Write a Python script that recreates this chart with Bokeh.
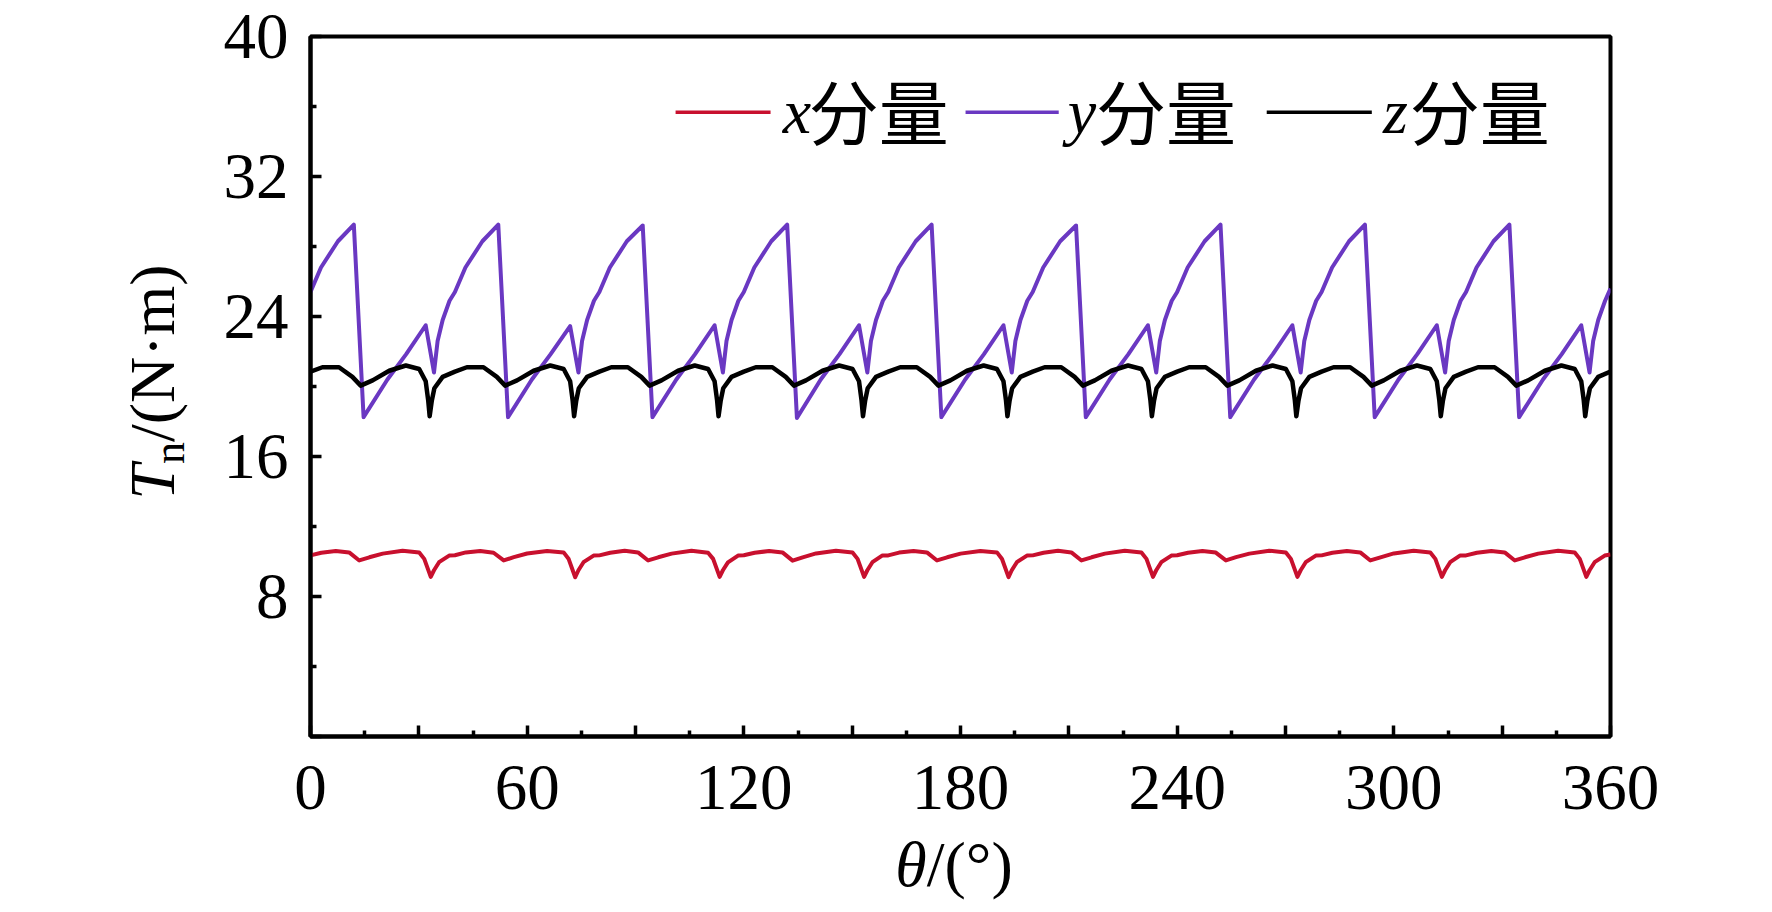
from bokeh.plotting import figure
from bokeh.layouts import row, column
from bokeh.models import Range1d, FixedTicker, Label, Div
from bokeh.embed import file_html
from bokeh.resources import INLINE

SERIF = "Liberation Serif"
CJK = "Noto Sans CJK SC"

RED = "#C8102E"
PURPLE = "#6A38C2"
BLACK = "#000000"

# x component (red)
x_theta = [
    0, 3.0, 7.0, 10.7, 13.5, 16.3, 20.0, 25.5, 30.1, 31.5, 33.3, 34.2, 35.6, 38.4,
    40, 43.0, 47.0, 50.7, 53.5, 56.3, 60.0, 65.5, 70.1, 71.5, 73.3, 74.2, 75.6, 78.4,
    80, 83.0, 87.0, 90.7, 93.5, 96.3, 100.0, 105.5, 110.1, 111.5, 113.3, 114.2, 115.6, 118.4,
    120, 123.0, 127.0, 130.7, 133.5, 136.3, 140.0, 145.5, 150.1, 151.5, 153.3, 154.2, 155.6, 158.4,
    160, 163.0, 167.0, 170.7, 173.5, 176.3, 180.0, 185.5, 190.1, 191.5, 193.3, 194.2, 195.6, 198.4,
    200, 203.0, 207.0, 210.7, 213.5, 216.3, 220.0, 225.5, 230.1, 231.5, 233.3, 234.2, 235.6, 238.4,
    240, 243.0, 247.0, 250.7, 253.5, 256.3, 260.0, 265.5, 270.1, 271.5, 273.3, 274.2, 275.6, 278.4,
    280, 283.0, 287.0, 290.7, 293.5, 296.3, 300.0, 305.5, 310.1, 311.5, 313.3, 314.2, 315.6, 318.4,
    320, 323.0, 327.0, 330.7, 333.5, 336.3, 340.0, 345.5, 350.1, 351.5, 353.3, 354.2, 355.6, 358.4,
    360,
]
x_vals = [
    10.35, 10.50, 10.60, 10.52, 10.06, 10.24, 10.45, 10.62, 10.52, 10.15, 9.12, 9.50, 9.96, 10.34,
    10.36, 10.52, 10.60, 10.50, 10.06, 10.25, 10.46, 10.60, 10.52, 10.14, 9.10, 9.50, 9.96, 10.34,
    10.35, 10.50, 10.62, 10.52, 10.06, 10.24, 10.45, 10.62, 10.50, 10.15, 9.12, 9.50, 9.95, 10.34,
    10.36, 10.50, 10.60, 10.52, 10.05, 10.24, 10.46, 10.62, 10.52, 10.15, 9.12, 9.50, 9.96, 10.35,
    10.35, 10.51, 10.60, 10.52, 10.06, 10.24, 10.45, 10.60, 10.52, 10.14, 9.11, 9.50, 9.96, 10.34,
    10.35, 10.50, 10.61, 10.52, 10.06, 10.24, 10.45, 10.62, 10.52, 10.15, 9.12, 9.50, 9.96, 10.34,
    10.36, 10.50, 10.60, 10.51, 10.06, 10.25, 10.45, 10.62, 10.52, 10.15, 9.12, 9.50, 9.96, 10.34,
    10.35, 10.50, 10.60, 10.52, 10.06, 10.24, 10.46, 10.61, 10.52, 10.15, 9.12, 9.50, 9.96, 10.35,
    10.35, 10.50, 10.60, 10.52, 10.06, 10.24, 10.45, 10.62, 10.52, 10.15, 9.12, 9.50, 9.96, 10.34,
    10.40,
]

# y component (purple)
y_theta = [
    0, 2.9, 7.6, 12.0, 14.7, 21.3, 26.5, 31.9, 34.2, 35.2, 36.6, 38.5,
    40, 42.9, 47.6, 52.0, 54.7, 61.3, 66.5, 71.9, 74.2, 75.2, 76.6, 78.5,
    80, 82.9, 87.6, 92.0, 94.7, 101.3, 106.5, 111.9, 114.2, 115.2, 116.6, 118.5,
    120, 122.9, 127.6, 132.0, 134.7, 141.3, 146.5, 151.9, 154.2, 155.2, 156.6, 158.5,
    160, 162.9, 167.6, 172.0, 174.7, 181.3, 186.5, 191.9, 194.2, 195.2, 196.6, 198.5,
    200, 202.9, 207.6, 212.0, 214.7, 221.3, 226.5, 231.9, 234.2, 235.2, 236.6, 238.5,
    240, 242.9, 247.6, 252.0, 254.7, 261.3, 266.5, 271.9, 274.2, 275.2, 276.6, 278.5,
    280, 282.9, 287.6, 292.0, 294.7, 301.3, 306.5, 311.9, 314.2, 315.2, 316.6, 318.5,
    320, 322.9, 327.6, 332.0, 334.7, 341.3, 346.5, 351.9, 354.2, 355.2, 356.6, 358.5,
    360,
]
y_vals = [
    25.4, 26.8, 28.3, 29.25, 18.25, 20.4, 21.85, 23.5, 20.8, 22.6, 23.8, 24.9,
    25.4, 26.8, 28.3, 29.25, 18.25, 20.4, 21.85, 23.45, 20.8, 22.6, 23.8, 24.9,
    25.4, 26.8, 28.3, 29.2, 18.25, 20.4, 21.85, 23.5, 20.8, 22.6, 23.8, 24.9,
    25.4, 26.8, 28.3, 29.25, 18.2, 20.4, 21.85, 23.5, 20.8, 22.6, 23.8, 24.9,
    25.4, 26.8, 28.3, 29.25, 18.25, 20.4, 21.85, 23.5, 20.8, 22.6, 23.8, 24.9,
    25.4, 26.8, 28.3, 29.2, 18.25, 20.4, 21.85, 23.5, 20.8, 22.6, 23.8, 24.9,
    25.4, 26.8, 28.3, 29.25, 18.25, 20.4, 21.85, 23.5, 20.8, 22.6, 23.8, 24.9,
    25.4, 26.8, 28.3, 29.25, 18.25, 20.4, 21.85, 23.5, 20.8, 22.6, 23.8, 24.9,
    25.4, 26.8, 28.3, 29.25, 18.25, 20.4, 21.85, 23.5, 20.8, 22.6, 23.8, 24.9,
    25.6,
]

# z component (black)
z_theta = [
    0, 3.3, 7.9, 11.6, 13.9, 17.2, 21.8, 26.4, 30.1, 31.9, 32.6, 33.0, 33.6, 34.3, 36.6,
    40, 43.3, 47.9, 51.6, 53.9, 57.2, 61.8, 66.4, 70.1, 71.9, 72.6, 73.0, 73.6, 74.3, 76.6,
    80, 83.3, 87.9, 91.6, 93.9, 97.2, 101.8, 106.4, 110.1, 111.9, 112.6, 113.0, 113.6, 114.3, 116.6,
    120, 123.3, 127.9, 131.6, 133.9, 137.2, 141.8, 146.4, 150.1, 151.9, 152.6, 153.0, 153.6, 154.3, 156.6,
    160, 163.3, 167.9, 171.6, 173.9, 177.2, 181.8, 186.4, 190.1, 191.9, 192.6, 193.0, 193.6, 194.3, 196.6,
    200, 203.3, 207.9, 211.6, 213.9, 217.2, 221.8, 226.4, 230.1, 231.9, 232.6, 233.0, 233.6, 234.3, 236.6,
    240, 243.3, 247.9, 251.6, 253.9, 257.2, 261.8, 266.4, 270.1, 271.9, 272.6, 273.0, 273.6, 274.3, 276.6,
    280, 283.3, 287.9, 291.6, 293.9, 297.2, 301.8, 306.4, 310.1, 311.9, 312.6, 313.0, 313.6, 314.3, 316.6,
    320, 323.3, 327.9, 331.6, 333.9, 337.2, 341.8, 346.4, 350.1, 351.9, 352.6, 353.0, 353.6, 354.3, 356.6,
    360,
]
z_vals = [
    20.85, 21.1, 21.1, 20.55, 20.05, 20.35, 20.9, 21.2, 21.0, 20.3, 19.2, 18.3, 19.2, 19.9, 20.55,
    20.85, 21.1, 21.1, 20.55, 20.05, 20.35, 20.9, 21.2, 21.0, 20.3, 19.2, 18.3, 19.2, 19.9, 20.55,
    20.85, 21.1, 21.1, 20.55, 20.05, 20.35, 20.9, 21.2, 21.0, 20.3, 19.2, 18.3, 19.2, 19.9, 20.55,
    20.85, 21.1, 21.1, 20.55, 20.05, 20.35, 20.9, 21.2, 21.0, 20.3, 19.2, 18.3, 19.2, 19.9, 20.55,
    20.85, 21.1, 21.1, 20.55, 20.05, 20.35, 20.9, 21.2, 21.0, 20.3, 19.2, 18.3, 19.2, 19.9, 20.55,
    20.85, 21.1, 21.1, 20.55, 20.05, 20.35, 20.9, 21.2, 21.0, 20.3, 19.2, 18.3, 19.2, 19.9, 20.55,
    20.85, 21.1, 21.1, 20.55, 20.05, 20.35, 20.9, 21.2, 21.0, 20.3, 19.2, 18.3, 19.2, 19.9, 20.55,
    20.85, 21.1, 21.1, 20.55, 20.05, 20.35, 20.9, 21.2, 21.0, 20.3, 19.2, 18.3, 19.2, 19.9, 20.55,
    20.85, 21.1, 21.1, 20.55, 20.05, 20.35, 20.9, 21.2, 21.0, 20.3, 19.2, 18.3, 19.2, 19.9, 20.55,
    20.85,
]

x_ticks = [0, 30, 60, 90, 120, 150, 180, 210, 240, 270, 300, 330, 360]
x_minor = [15, 45, 75, 105, 135, 165, 195, 225, 255, 285, 315, 345]
y_ticks = [0, 8, 16, 24, 32, 40]
y_minor = [4, 12, 20, 28, 36]

legend_letters = ["x", "y", "z"]
legend_text = "分量"

x_title_html = "<i>θ</i>/(°)"
y_title_html = "<i>T</i><sub style='font-size:44px;vertical-align:-10px'>n</sub>/(N·m)"

FIG_W = 1556
FIG_H = 846


def style_axes(p):
    for ax in (p.xaxis[0], p.yaxis[0]):
        ax.axis_line_width = 4
        ax.major_tick_line_width = 3.5
        ax.minor_tick_line_width = 3.5
        ax.major_tick_in = 11
        ax.major_tick_out = 0
        ax.minor_tick_in = 6
        ax.minor_tick_out = 0
        ax.major_label_text_font = SERIF
        ax.major_label_text_font_size = "65px"
        ax.major_label_text_color = "black"

    p.xaxis.ticker = FixedTicker(ticks=x_ticks, minor_ticks=x_minor)
    p.xaxis.major_label_overrides = {t: ("" if t % 60 else str(t)) for t in x_ticks}
    p.xaxis.major_label_standoff = 29

    p.yaxis.ticker = FixedTicker(ticks=y_ticks, minor_ticks=y_minor)
    p.yaxis.major_label_overrides = {0: ""}
    p.yaxis.major_label_standoff = 22


def add_legend(p):
    # hand-made legend so the component letter can be italic
    key_x0 = [101.1, 181.4, 264.8]
    key_x1 = [127.4, 207.2, 293.9]
    letter_x = [130.8, 209.7, 297.0]
    cjk_x = [138.0, 217.5, 304.4]
    colors = [RED, PURPLE, BLACK]
    key_y = 35.67
    letter_y = 35.7
    cjk_y = 35.85
    p.segment(x0=key_x0, y0=[key_y] * 3, x1=key_x1, y1=[key_y] * 3, color=colors, line_width=3.5)
    for i in range(3):
        p.add_layout(Label(x=letter_x[i], y=letter_y, text=legend_letters[i], text_font=SERIF,
                           text_font_style="italic", text_font_size="64px", text_color="black",
                           text_align="left", text_baseline="alphabetic"))
        p.add_layout(Label(x=cjk_x[i], y=cjk_y, text=legend_text, text_font=CJK,
                           text_font_size="70px", text_color="black",
                           text_align="left", text_baseline="alphabetic"))


def axis_titles():
    # labels outside the frame get clipped, so the titles live in Divs around the figure
    font = "font-family:'Liberation Serif';font-size:64px;line-height:64px;color:black;white-space:nowrap;"
    ytitle = Div(width=200, height=FIG_H,
                 text=("<div style=\"" + font + "width:938px;height:200px;padding-top:116px;"
                       "box-sizing:border-box;text-align:center;transform-origin:0 0;"
                       "transform:translate(0px,%dpx) rotate(-90deg);\">" % FIG_H) + y_title_html + "</div>")
    xtitle = Div(width=1756, height=896 - FIG_H,
                 text=("<div style=\"" + font + "width:1756px;padding-left:142px;box-sizing:border-box;"
                       "text-align:center;position:relative;top:-28px;\">" + x_title_html + "</div>"))
    return ytitle, xtitle


def main():
    p = figure(width=FIG_W, height=FIG_H, x_range=Range1d(0, 360), y_range=Range1d(0, 40),
               output_backend="svg", toolbar_location=None,
               min_border_left=100, min_border_right=156, min_border_top=36, min_border_bottom=110)
    p.grid.visible = False
    p.background_fill_color = "white"
    p.border_fill_color = "white"
    p.outline_line_color = "black"
    p.outline_line_width = 4
    p.outline_line_alpha = 1

    p.line(x_theta, x_vals, color=RED, line_width=4, line_join="round")
    p.line(y_theta, y_vals, color=PURPLE, line_width=4, line_join="round")
    p.line(z_theta, z_vals, color=BLACK, line_width=4.5, line_join="round")

    style_axes(p)
    add_legend(p)

    ytitle, xtitle = axis_titles()
    page = column(row(ytitle, p, spacing=0), xtitle, spacing=0)

    open("out.html", "w").write(file_html(page, INLINE))


if __name__ == "__main__":
    main()
